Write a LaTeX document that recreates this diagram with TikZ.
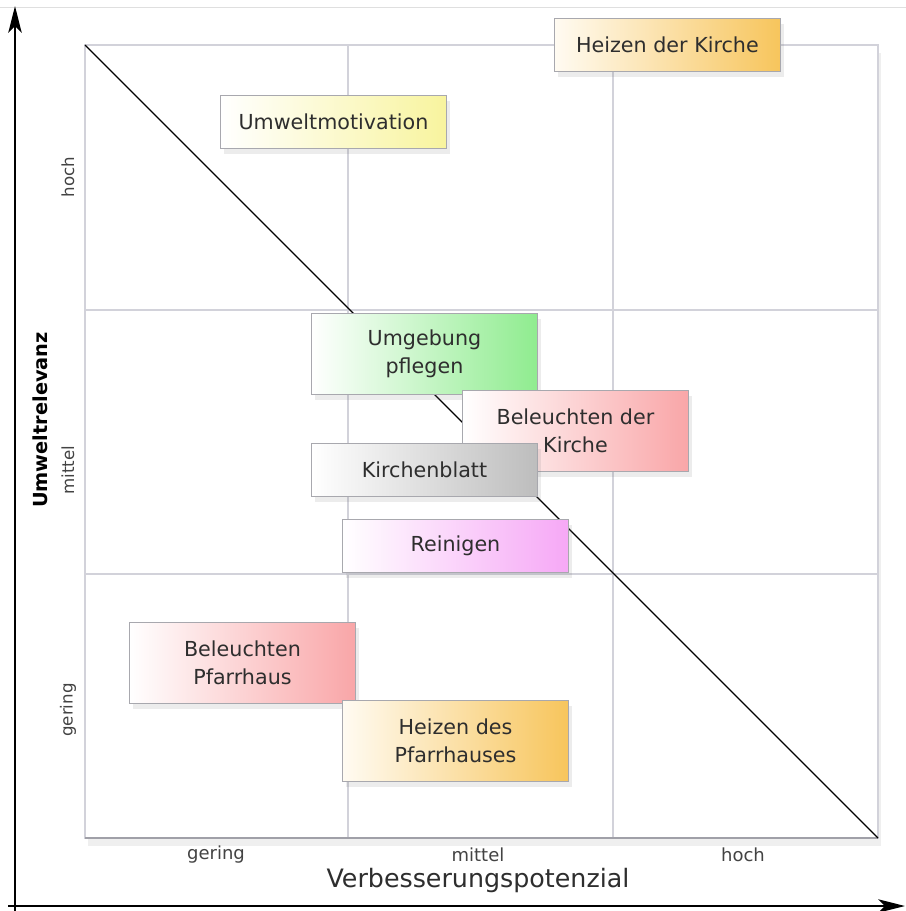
\documentclass[tikz,border=0pt]{standalone}
\usepackage{fontspec}
\setmainfont{DejaVu Sans}
\usetikzlibrary{arrows.meta,shadows}
\definecolor{gridln}{HTML}{D2D2DA}
\definecolor{gridbot}{HTML}{A0A0A8}
\definecolor{boxedge}{HTML}{A8A8AE}
\definecolor{txt}{HTML}{2E2E2E}
\definecolor{cOrange}{HTML}{F7C55C}
\definecolor{cYellow}{HTML}{F8F49E}
\definecolor{cGreen}{HTML}{8FEC8F}
\definecolor{cRed}{HTML}{F9A6A8}
\definecolor{cGrey}{HTML}{BDBDBD}
\definecolor{cViolet}{HTML}{F6A8F6}
\definecolor{cCream}{HTML}{FFFBF2}
\begin{document}
\begin{tikzpicture}[x=0.75pt,y=-0.75pt,
  box/.style={draw=boxedge, line width=0.7pt, text=txt, align=center,
    anchor=north west, inner sep=0pt, minimum width=169.5pt,
    font=\fontsize{15.5}{21}\selectfont,
    drop shadow={shadow xshift=3pt, shadow yshift=-4pt, opacity=0.12, fill=black!60}},
  one/.style={minimum height=39.75pt},
  two/.style={minimum height=60.75pt},
  tick/.style={text=txt!90, font=\fontsize{13.5}{16}\selectfont},
  vtick/.style={text=txt!90, font=\fontsize{12.5}{15}\selectfont, rotate=90},
  axarrow/.style={line width=2.2pt, -{Stealth[length=20pt,width=10pt,inset=5pt]}}
]
\useasboundingbox (0,0) rectangle (906,911);
\fill[white] (0,0) rectangle (906,911);
\draw[gray!25] (0,7) -- (906,7);
% grid panel
\coordinate (tl) at (85,45);
\coordinate (br) at (878,838);
\fill[white, drop shadow={shadow xshift=2pt, shadow yshift=-6pt, opacity=0.10, fill=black!60}] (tl) rectangle (br);
\draw[gridln, line width=0.8pt] (tl) rectangle (br);
\draw[gridln, line width=0.8pt] (348,45) -- (348,838) (613,45) -- (613,838)
  (85,310) -- (878,310) (85,574) -- (878,574);
\draw[gridbot, line width=1.2pt] (85,838) -- (878,838);
\draw[black, line width=0.8pt] (tl) -- (br);
% axes
\coordinate (yb) at (15,911);
\coordinate (yt) at (15,6);
\coordinate (xl) at (8,906);
\coordinate (xr) at (905,906);
\draw[axarrow] (yb) -- (yt);
\draw[axarrow] (xl) -- (xr);
% axis labels
\node[rotate=90, text=black, font=\fontsize{14.5}{17}\selectfont\bfseries] (ylab) at (40,420) {Umweltrelevanz};
\node[text=txt, font=\fontsize{19}{22}\selectfont] (xlab) at (478,880) {Verbesserungspotenzial};
\node[tick] (xg) at (216,855) {gering};
\node[tick] (xm) at (478,855) {mittel};
\node[tick] (xh) at (743,855) {hoch};
\node[vtick] (yh) at (68,177) {hoch};
\node[vtick] (ym) at (68,470) {mittel};
\node[vtick] (yg) at (68,710) {gering};
% boxes
\node[box, one, left color=cCream, right color=cOrange] (hk) at (554,18) {Heizen der Kirche};
\node[box, one, left color=white, right color=cYellow] (um) at (220,95) {Umweltmotivation};
\node[box, two, left color=white, right color=cGreen] (up) at (311,313) {Umgebung\\pflegen};
\node[box, two, left color=white, right color=cRed] (bk) at (462,390) {Beleuchten der\\Kirche};
\node[box, one, left color=white, right color=cGrey] (kb) at (311,443) {Kirchenblatt};
\node[box, one, left color=white, right color=cViolet] (rg) at (342,519) {Reinigen};
\node[box, two, left color=white, right color=cRed] (bp) at (129,622) {Beleuchten\\Pfarrhaus};
\node[box, two, left color=cCream, right color=cOrange] (hp) at (342,700) {Heizen des\\Pfarrhauses};
\end{tikzpicture}
\end{document}
